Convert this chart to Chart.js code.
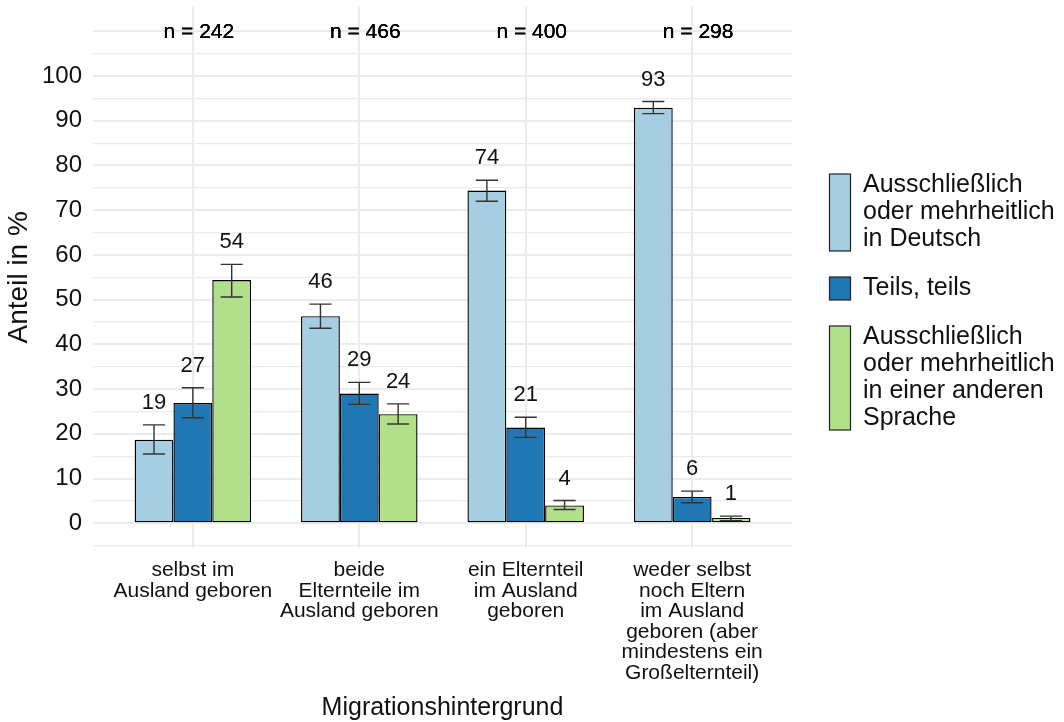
<!DOCTYPE html>
<html>
<head>
<meta charset="utf-8">
<script src="https://cdn.jsdelivr.net/npm/chart.js@4.4.1/dist/chart.umd.min.js"></script>
<style>
  html, body { margin: 0; padding: 0; background: #fff; }
  #chart { display: block; }
</style>
</head>
<body>
<canvas id="chart" width="1064" height="722"></canvas>
<script>
// Kategorien (Migrationshintergrund), mehrzeilig wie im Original
const kategorien = [
  ["selbst im", "Ausland geboren"],
  ["beide", "Elternteile im", "Ausland geboren"],
  ["ein Elternteil", "im Ausland", "geboren"],
  ["weder selbst", "noch Eltern", "im Ausland", "geboren (aber", "mindestens ein", "Großelternteil)"]
];
const fallzahlen = [242, 466, 400, 298];

// Legende
const serienNamen = [
  ["Ausschließlich", "oder mehrheitlich", "in Deutsch"],
  ["Teils, teils"],
  ["Ausschließlich", "oder mehrheitlich", "in einer anderen", "Sprache"]
];
const serienFarben = ["#A6CEE3", "#1F78B4", "#B2DF8A"];

// Anteile in %
const deutsch = [18.7, 46.3, 74.4, 92.9];
const teils = [26.9, 29.0, 21.4, 5.9];
const andere = [54.4, 24.4, 4.0, 1.2];

// Konfidenzintervalle (unten / oben)
const deutschUnten = [15.5, 43.6, 72.0, 91.6];
const deutschOben = [22.0, 49.0, 76.7, 94.3];
const teilsUnten = [23.6, 26.6, 19.2, 4.6];
const teilsOben = [30.3, 31.5, 23.7, 7.2];
const andereUnten = [50.6, 22.2, 3.1, 0.6];
const andereOben = [57.9, 26.7, 5.1, 1.6];

// Achsen
const yBreaks = [-5, 0, 5, 10, 15, 20, 25, 30, 35, 40, 45, 50, 55, 60, 65, 70, 75, 80, 85, 90, 95, 100, 105, 110];
const yLabels = [0, 10, 20, 30, 40, 50, 60, 70, 80, 90, 100];
const xBreaks = [1, 2, 3, 4];

const FONT = "'Liberation Sans', Arial, Helvetica, sans-serif";
Chart.defaults.font.family = FONT;
Chart.defaults.color = "#111";

function punkte(werte) {
  return werte.map((v, i) => ({ x: xBreaks[i], y: v }));
}

function serie(idx, werte, unten, oben) {
  return {
    label: serienNamen[idx].join(" "),
    data: punkte(werte),
    unten: unten,
    oben: oben,
    backgroundColor: serienFarben[idx],
    borderColor: "#000",
    borderWidth: 1.4,
    borderSkipped: false,
    barPercentage: 1.0,
    categoryPercentage: 0.7,
  };
}

// Fehlerbalken, Werte, n-Beschriftung und Legende
const extras = {
  id: "extras",
  afterDatasetsDraw(chart) {
    const ctx = chart.ctx;
    const yScale = chart.scales.y;
    chart.data.datasets.forEach((ds, di) => {
      const meta = chart.getDatasetMeta(di);
      meta.data.forEach((bar, i) => {
        const lo = yScale.getPixelForValue(ds.unten[i]);
        const hi = yScale.getPixelForValue(ds.oben[i]);
        const half = bar.width * 0.285;
        ctx.save();
        ctx.strokeStyle = "#333";
        ctx.lineWidth = 1.4;
        ctx.beginPath();
        ctx.moveTo(bar.x - half, hi); ctx.lineTo(bar.x + half, hi);
        ctx.moveTo(bar.x, hi); ctx.lineTo(bar.x, lo);
        ctx.moveTo(bar.x - half, lo); ctx.lineTo(bar.x + half, lo);
        ctx.stroke();
        ctx.fillStyle = "#111";
        ctx.font = "22px " + FONT;
        ctx.textAlign = "center";
        ctx.textBaseline = "middle";
        ctx.fillText(String(Math.round(ds.data[i].y)), bar.x, hi - 22);
        ctx.restore();
      });
    });
  },
  afterDraw(chart) {
    const ctx = chart.ctx;
    const xScale = chart.scales.x;
    const yScale = chart.scales.y;
    ctx.save();
    // n = ...
    ctx.fillStyle = "#000";
    ctx.font = "21px " + FONT;
    ctx.textAlign = "center";
    ctx.textBaseline = "middle";
    fallzahlen.forEach((n, i) => {
      const px = xScale.getPixelForValue(xBreaks[i]) + 6;
      const py = yScale.getPixelForValue(110) + 1;
      // mehrfach gezeichnet wie im Original (wirkt etwas kräftiger)
      for (let k = 0; k < 3; k++) ctx.fillText("n = " + n, px, py);
    });
    // Legende
    const lh = 27;
    const keyX = chart.chartArea.right + 37.5;
    let top = 174;
    ctx.font = "25px " + FONT;
    ctx.textAlign = "left";
    serienNamen.forEach((zeilen, i) => {
      const h = zeilen.length * lh - 4;
      ctx.fillStyle = serienFarben[i];
      ctx.fillRect(keyX, top, 21, h);
      ctx.strokeStyle = "#222";
      ctx.lineWidth = 1.2;
      ctx.strokeRect(keyX, top, 21, h);
      ctx.fillStyle = "#111";
      const mid = top + h / 2;
      zeilen.forEach((t, j) => {
        ctx.fillText(t, keyX + 33.5, mid + (j - (zeilen.length - 1) / 2) * lh);
      });
      top += h + 26;
    });
    ctx.restore();
  }
};

new Chart(document.getElementById("chart"), {
  type: "bar",
  data: {
    datasets: [
      serie(0, deutsch, deutschUnten, deutschOben),
      serie(1, teils, teilsUnten, teilsOben),
      serie(2, andere, andereUnten, andereOben),
    ],
  },
  options: {
    responsive: false,
    animation: false,
    devicePixelRatio: 1,
    layout: { padding: { top: 6.7, right: 272, left: 0, bottom: 0 } },
    plugins: {
      legend: { display: false },
      tooltip: { enabled: false },
    },
    scales: {
      x: {
        type: "linear",
        min: 0.4,
        max: 4.6,
        offset: false,
        afterBuildTicks: (scale) => { scale.ticks = xBreaks.map((v) => ({ value: v })); },
        afterFit: (scale) => {
          scale.height = 174.1;
          scale.paddingLeft = 0; scale.paddingRight = 0;
          scale.paddingTop = 0; scale.paddingBottom = 0;
        },
        ticks: {
          autoSkip: false,
          maxRotation: 0,
          padding: 12,
          color: "#111",
          font: { size: 21, lineHeight: 0.98 },
          callback: (v) => kategorien[v - 1],
        },
        grid: { color: "#EBEBEB", lineWidth: 2, drawTicks: false, offset: false },
        border: { display: false },
        title: {
          display: true,
          text: "Migrationshintergrund",
          color: "#111",
          font: { size: 25, lineHeight: 1.1 },
          padding: { top: 0, bottom: 0 },
        },
      },
      y: {
        min: -5.5,
        max: 115.5,
        afterBuildTicks: (scale) => { scale.ticks = yBreaks.map((v) => ({ value: v })); },
        afterFit: (scale) => {
          scale.width = 93;
          scale.paddingTop = 0; scale.paddingBottom = 0;
          scale.paddingLeft = 0; scale.paddingRight = 0;
        },
        ticks: {
          autoSkip: false,
          padding: 11,
          color: "#111",
          font: { size: 24 },
          callback: (v) => (yLabels.includes(v) ? String(v) : ""),
        },
        grid: {
          color: "#EBEBEB",
          lineWidth: (c) => (c.tick && c.tick.value % 10 === 0 ? 2 : 1.2),
          drawTicks: false,
        },
        border: { display: false },
        title: {
          display: true,
          text: "Anteil in %",
          color: "#111",
          font: { size: 28, lineHeight: 1.2 },
          padding: { top: 2, bottom: 0 },
        },
      },
    },
  },
  plugins: [extras],
});
</script>
</body>
</html>
